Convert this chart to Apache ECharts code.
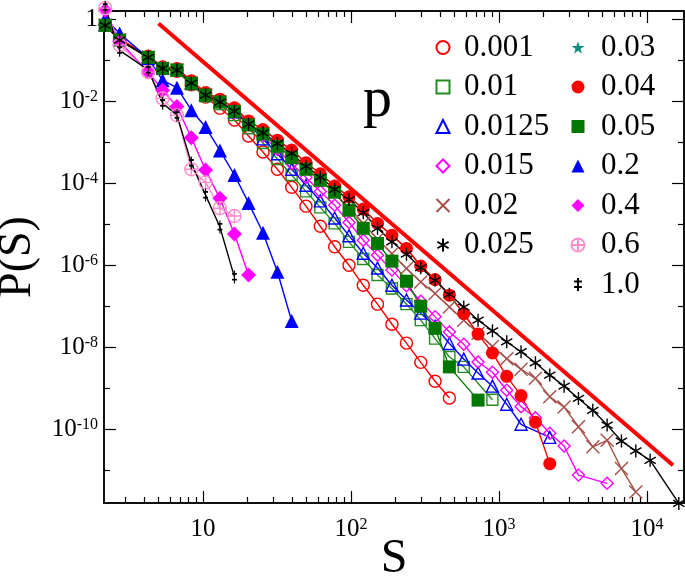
<!DOCTYPE html>
<html><head><meta charset="utf-8">
<script src="https://cdn.jsdelivr.net/npm/echarts@6/dist/echarts.min.js"></script>
<style>html,body{margin:0;padding:0;background:#fff}#c{width:685px;height:579px}</style>
</head><body><div id="c"></div>
<script>
// ---- bin centres (S) ----
const binS = [2.18, 2.73, 4.26, 5.33, 6.66, 8.33, 10.4, 13.0, 16.3, 20.3, 25.4, 31.8, 39.7, 49.6, 62.0, 77.5, 96.9, 121, 151, 189, 237, 296, 370, 462, 578, 722, 903, 1128, 1410, 1763, 2204, 2755, 3444, 4305, 5381, 6726, 8407, 10509, 13136, 16420];

// ---- log10 P(S), aligned with binS (null = no point) ----
const logP_0001  = [-0.15, -0.51, -0.94, -1.21, -1.27, -1.60, -1.90, -2.17, -2.46, -2.85, -3.24, -3.66, -4.10, -4.56, -5.05, -5.55, -6.00, -6.49, -6.95, -7.44, -7.90, -8.37, -8.83, -9.24];
const logP_001   = [-0.15, -0.51, -0.94, -1.21, -1.26, -1.59, -1.88, -2.07, -2.34, -2.66, -3.02, -3.41, -3.80, -4.20, -4.59, -4.98, -5.43, -5.85, -6.24, -6.57, -6.95, -7.34, -7.79, -8.24, -8.48, null, -9.28];
const logP_00125 = [-0.13, -0.49, -0.92, -1.18, -1.22, -1.55, -1.83, -2.00, -2.26, -2.56, -2.92, -3.28, -3.66, -4.05, -4.43, -4.85, -5.28, -5.71, -6.07, -6.49, -6.85, -7.17, -7.49, -7.91, -8.29, -8.63, -8.95, -9.39, -9.88, null, -10.20];
const logP_0015  = [-0.13, -0.49, -0.92, -1.18, -1.22, -1.54, -1.82, -1.98, -2.22, -2.52, -2.85, -3.18, -3.52, -3.86, -4.20, -4.54, -4.96, -5.39, -5.76, -6.12, -6.50, -6.88, -7.26, -7.63, -7.93, -8.36, -8.61, -9.05, -9.45, -9.72, -10.10, -10.41, -11.12, null, -11.32];
const logP_002   = [-0.15, -0.51, -0.93, -1.20, -1.24, -1.56, -1.85, -2.02, -2.25, -2.57, -2.79, -3.06, -3.31, -3.64, -3.92, -4.25, -4.60, -4.98, -5.36, -5.72, -6.08, -6.41, -6.69, -7.02, -7.34, -7.66, -7.98, -8.28, -8.54, -8.76, -9.21, -9.46, -9.94, -10.43, -10.27, -10.96, -11.53];
const logP_0025  = [-0.15, -0.51, -0.93, -1.20, -1.24, -1.56, -1.85, -2.02, -2.24, -2.56, -2.77, -3.03, -3.27, -3.59, -3.85, -4.15, -4.40, -4.72, -5.10, -5.43, -5.73, -6.06, -6.37, -6.71, -7.02, -7.34, -7.60, -7.87, -8.11, -8.38, -8.68, -8.95, -9.25, -9.54, -9.90, -10.29, -10.53, -10.76, null, -11.81];
const logP_003   = [-0.12, -0.48, -0.90, -1.16, -1.20, -1.50, -1.79, -1.95, -2.16, -2.48, -2.69, -2.95, -3.19, -3.50, -3.77, -4.07, -4.33, -4.63, -4.98, -5.27, -5.59, -6.02, -6.35, -6.73, -7.18, -7.68];
const logP_004   = [-0.12, -0.48, -0.90, -1.16, -1.20, -1.50, -1.79, -1.95, -2.16, -2.48, -2.69, -2.95, -3.19, -3.50, -3.77, -4.07, -4.33, -4.63, -4.98, -5.27, -5.59, -6.02, -6.35, -6.73, -7.18, -7.68, -8.14, -8.71, -9.18, -9.83, -10.84];
const logP_005   = [-0.15, -0.51, -0.93, -1.20, -1.24, -1.56, -1.85, -2.02, -2.25, -2.58, -2.80, -3.10, -3.38, -3.66, -3.93, -4.22, -4.66, -5.10, -5.47, -5.90, -6.39, -7.00, -7.54, -8.48, null, -9.29];
const logP_02    = [0.02, -0.35, -0.95, -1.49, -1.67, -2.22, -2.63, -3.20, -3.80, -4.48, -5.21, -6.16, -7.36];
const logP_04    = [0.22, -0.55, -1.29, -1.73, -2.13, -2.89, -3.68, -4.37, -5.24, -6.24];
const logP_06    = [0.27, -0.63, -1.29, -1.93, -2.34, -3.66, -3.98, -4.61, -4.80];
const logP_10    = [0.29, -0.76, -1.24, -2.05, -2.34, -3.51, -4.29, -5.07, -6.29];

// ---- guide line ----
const refLineS = [5.0, 15000];
const refLineP = [0.785, 1.32e-11];

// ---- axes / ticks ----
const xMin = 2.14, xMax = 17800;
const yMin = 1.585e-12, yMax = 1.585;
const xMajorTicks = [10, 100, 1000, 10000];
const xMinorTicks = [3, 4, 5, 6, 7, 8, 9, 20, 30, 40, 50, 60, 70, 80, 90, 200, 300, 400, 500, 600, 700, 800, 900, 2000, 3000, 4000, 5000, 6000, 7000, 8000, 9000];
const yMajorTicks = [1, 1e-2, 1e-4, 1e-6, 1e-8, 1e-10];
const yMinorTicks = [1e-1, 1e-3, 1e-5, 1e-7, 1e-9, 1e-11];

// ---- legend ----
const legendLeft = ['0.001', '0.01', '0.0125', '0.015', '0.02', '0.025'];
const legendRight = ['0.03', '0.04', '0.05', '0.2', '0.4', '0.6', '1.0'];
const seriesValues = {
  '0.001': logP_0001, '0.01': logP_001, '0.0125': logP_00125, '0.015': logP_0015,
  '0.02': logP_002, '0.025': logP_0025, '0.03': logP_003, '0.04': logP_004,
  '0.05': logP_005, '0.2': logP_02, '0.4': logP_04, '0.6': logP_06, '1.0': logP_10
};

const FONT = 'Liberation Serif';
const X_SYM = 'path://M0 0L10 10M0 10L10 0';
const AST_SYM = 'path://M5 0L5 10M0.67 2.5L9.33 7.5M0.67 7.5L9.33 2.5';
const OPLUS_SYM = 'path://M0 5A5 5 0 1 1 10 5A5 5 0 1 1 0 5ZM5 0L5 10M0 5L10 5';
const DDAG_SYM = 'path://M3 0L3 10M0 2.6L6 2.6M0 7L6 7';
const STAR_SYM = 'path://M5 0L6.2 3.6L10 3.6L6.9 5.9L8.1 9.5L5 7.3L1.9 9.5L3.1 5.9L0 3.6L3.8 3.6Z';

const styles = {
  '0.001':  {color: '#ff0000', symbol: 'circle',   size: 12, filled: false},
  '0.01':   {color: '#228b22', symbol: 'rect',     size: 11, filled: false},
  '0.0125': {color: '#0000ff', symbol: 'triangle', size: 12, filled: false},
  '0.015':  {color: '#ff00ff', symbol: 'diamond',  size: 12, filled: false},
  '0.02':   {color: '#a5504a', symbol: X_SYM,      size: 13, filled: false},
  '0.025':  {color: '#000000', symbol: AST_SYM,    size: 13, filled: false},
  '0.03':   {color: '#138a80', symbol: STAR_SYM,   size: 12, filled: true},
  '0.04':   {color: '#ff0000', symbol: 'circle',   size: 13, filled: true},
  '0.05':   {color: '#007800', symbol: 'rect',     size: 13, filled: true},
  '0.2':    {color: '#0000ff', symbol: 'triangle', size: 14, filled: true},
  '0.4':    {color: '#ff00ff', symbol: 'diamond',  size: 15, filled: true},
  '0.6':    {color: '#ff8ccc', symbol: OPLUS_SYM,  size: 13, filled: false},
  '1.0':    {color: '#000000', symbol: DDAG_SYM,   size: [8, 13], filled: false}
};
const drawOrder = ['0.03', '0.001', '0.01', '0.0125', '0.015', '0.02', '0.04', '0.2', '0.05', '0.4', '0.6', '1.0', '0.025'];

function toPoints(arr) {
  const pts = [];
  arr.forEach((lp, i) => { if (lp !== null) pts.push([binS[i], Math.pow(10, lp)]); });
  return pts;
}

const series = [{
  type: 'line', name: 'guide', data: refLineS.map((s, i) => [s, refLineP[i]]),
  symbol: 'none', lineStyle: {color: '#ff0000', width: 4}, silent: true, clip: false, z: 1
}];
drawOrder.forEach((name) => {
  const st = styles[name];
  series.push({
    type: 'line', name: name, data: toPoints(seriesValues[name]),
    symbol: st.symbol, symbolSize: st.size, symbolKeepAspect: true, showSymbol: true,
    itemStyle: {
      color: st.filled ? st.color : 'rgba(255,255,255,0)',
      borderColor: st.color, borderWidth: st.filled ? 0 : 1.4
    },
    lineStyle: {color: st.color, width: 1.4},
    clip: false, connectNulls: true, emphasis: {disabled: true}, z: 2
  });
});

function legendData(names) {
  return names.map(n => ({name: n, icon: styles[n].symbol}));
}
function mkLegend(left, textPad, names) {
  return {
    orient: 'vertical', left: left, top: 32, itemWidth: 13, itemHeight: 13, itemGap: 8.5,
    selectedMode: false, symbolKeepAspect: true, padding: 0,
    formatter: '{t|{name}}',
    textStyle: {fontFamily: FONT, fontSize: 31, color: '#000', lineHeight: 30,
      rich: {t: {fontFamily: FONT, fontSize: 31, color: '#000', lineHeight: 30, padding: [0, 0, 0, textPad]}}},
    data: legendData(names)
  };
}

function xLabel(v) {
  const e = Math.round(Math.log10(v));
  return e === 1 ? '{n|10}' : '{n|10}{sup|' + e + '}';
}
function yLabel(v) {
  const e = Math.round(Math.log10(v));
  return e === 0 ? '{n|1}' : '{n|10}{sup|' + e + '}';
}
const rich = {
  n: {fontSize: 25, fontFamily: FONT, color: '#000'},
  sup: {fontSize: 16, fontFamily: FONT, color: '#000', verticalAlign: 'top', padding: [0, 0, 8, 0]}
};

function mkX(pos, ticks, len, withLabels) {
  return {
    type: 'log', logBase: 10, position: pos, min: xMin, max: xMax,
    axisLine: {show: true, onZero: false, lineStyle: {color: '#000', width: 1.5}},
    axisTick: {show: true, inside: true, length: len, customValues: ticks, lineStyle: {color: '#000', width: 1.2}},
    axisLabel: withLabels ? {show: true, customValues: ticks, formatter: xLabel, rich: rich, fontFamily: FONT, fontSize: 25, color: '#000', margin: 14} : {show: false},
    splitLine: {show: false}, minorTick: {show: false}
  };
}
function mkY(pos, ticks, len, withLabels) {
  return {
    type: 'log', logBase: 10, position: pos, min: yMin, max: yMax,
    axisLine: {show: true, onZero: false, lineStyle: {color: '#000', width: 1.5}},
    axisTick: {show: true, inside: true, length: len, customValues: ticks, lineStyle: {color: '#000', width: 1.2}},
    axisLabel: withLabels ? {show: true, customValues: ticks, formatter: yLabel, rich: rich, fontFamily: FONT, fontSize: 25, color: '#000', margin: 6} : {show: false},
    splitLine: {show: false}, minorTick: {show: false}
  };
}

const xAxes = [mkX('bottom', xMajorTicks, 12, true), mkX('bottom', xMinorTicks, 6, false), mkX('top', xMajorTicks, 12, false), mkX('top', xMinorTicks, 6, false)];
Object.assign(xAxes[0], {name: 'S', nameLocation: 'middle', nameGap: 32, nameMoveOverlap: false, nameTextStyle: {fontFamily: FONT, fontSize: 48, color: '#000'}});
const yAxes = [mkY('left', yMajorTicks, 12, true), mkY('left', yMinorTicks, 6, false), mkY('right', yMajorTicks, 12, false), mkY('right', yMinorTicks, 6, false)];
Object.assign(yAxes[0], {name: 'P(S)', nameLocation: 'middle', nameGap: 62, nameRotate: 90, nameTextStyle: {fontFamily: FONT, fontSize: 46, color: '#000'}});

const chart = echarts.init(document.getElementById('c'), null, {renderer: 'canvas'});
chart.setOption({
  backgroundColor: '#fff',
  animation: false,
  grid: {left: 104, right: 1, top: 11, bottom: 76, containLabel: false, outerBoundsMode: 'none'},
  xAxis: xAxes,
  yAxis: yAxes,
  legend: [mkLegend(435.5, 9.5, legendLeft), mkLegend(570.5, 11.5, legendRight)],
  graphic: [{type: 'text', left: 363, top: 72, style: {text: 'p', font: '58px ' + FONT, fill: '#000'}, silent: true}],
  series: series
});
</script>
</body></html>
